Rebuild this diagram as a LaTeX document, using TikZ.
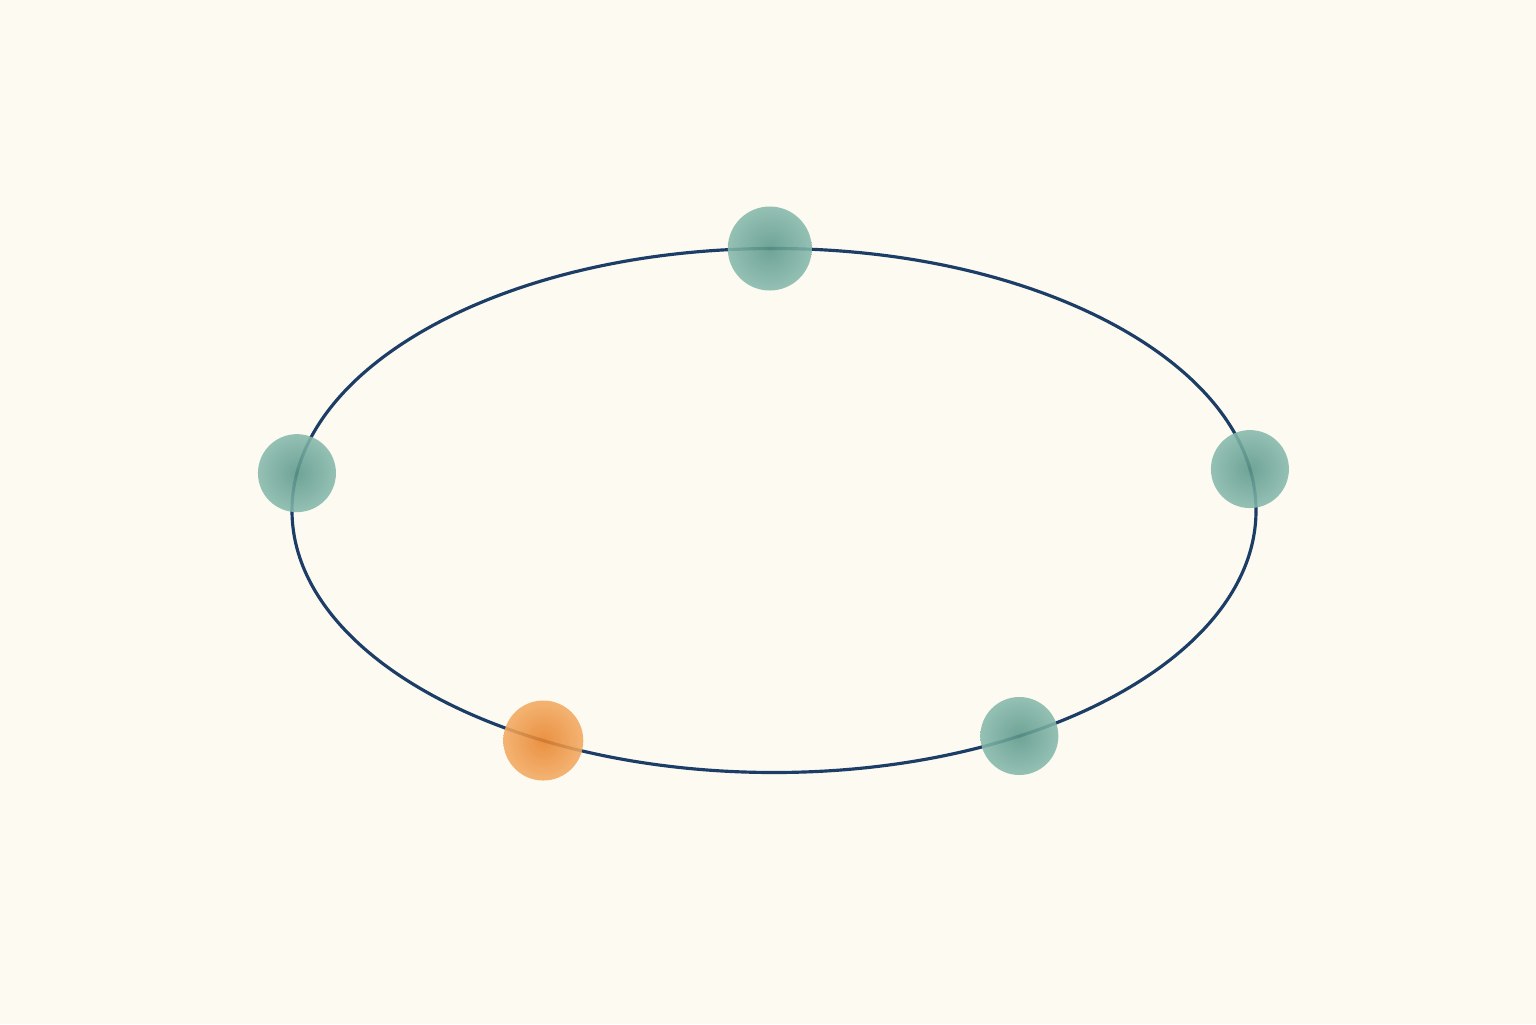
\documentclass[tikz,border=0pt]{standalone}
\usepackage[dvipsnames]{xcolor}
\usepackage{tikz}
\usetikzlibrary{positioning}
\usetikzlibrary{calc}

\definecolor{paper}{HTML}{FCFAF1}
\definecolor{orbit}{HTML}{1C3D66}
\definecolor{tealin}{HTML}{5C988A}
\definecolor{tealout}{HTML}{86B9AC}
\definecolor{orangein}{HTML}{E8832A}
\definecolor{orangeout}{HTML}{F3AA62}

\tikzset{
	ball/.style = {circle, minimum size=0.78cm, inner sep=0pt, opacity=0.88},
	tealball/.style = {ball, inner color=tealin, outer color=tealout},
	orangeball/.style = {ball, inner color=orangein, outer color=orangeout}
}

\begin{document}
\begin{tikzpicture}
							\fill[paper] (0,0) rectangle (15.36,10.24);
							\useasboundingbox (0,0) rectangle (15.36,10.24);
							\coordinate (c) at (7.74,5.135);

							% draw the orbit, a = 4.82, b = 2.62
							\draw[orbit, line width=0.9pt] (c) ellipse [x radius=4.82, y radius=2.62];

							% the points on the orbit
							\node[tealball, minimum width=0.84cm, minimum height=0.74cm] (top) at ($(c)+({4.82*cos(90.5)},{2.62*sin(90.5)})$) {};
							\node[tealball] (left) at ($(c)+({4.82*cos(171.8)},{2.62*sin(171.8)})$) {};
							\node[tealball] (right) at ($(c)+({4.82*cos(9.1)},{2.62*sin(9.1)})$) {};
							\node[tealball] (lowright) at ($(c)+({4.82*cos(300.6)},{2.62*sin(300.6)})$) {};
							\node[orangeball, minimum size=0.8cm] (lowleft) at ($(c)+({4.82*cos(241.4)},{2.62*sin(241.4)})$) {};
						\end{tikzpicture}
\end{document}
